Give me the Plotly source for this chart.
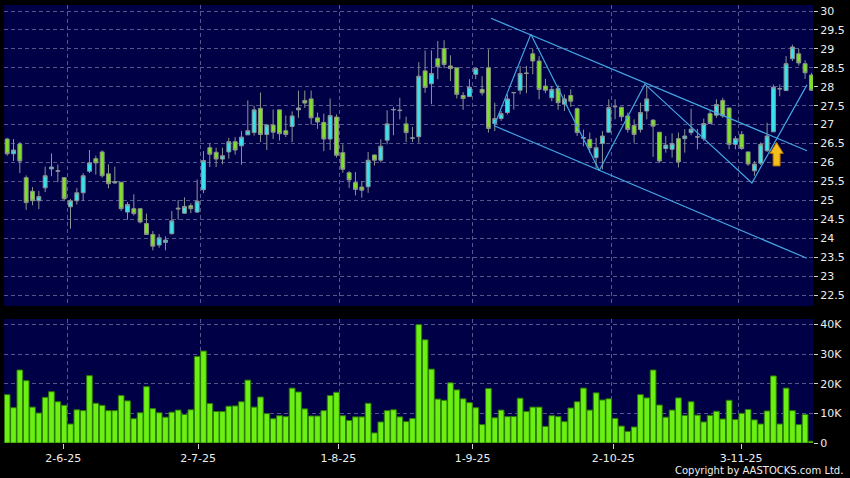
import plotly.graph_objects as go
from plotly.subplots import make_subplots

# daily sessions 20-5-25 .. 19-11-25 (128 bars), x = session index
opens = [26.62, 26.23, 26.49, 25.60, 25.24, 24.99, 25.33, 25.83, 25.77, 25.60,
         24.83, 24.99, 25.20, 25.77, 26.10, 26.28, 25.70, 25.46, 25.48, 24.69,
         24.78, 24.78, 24.39, 24.10, 23.82, 23.89, 24.12, 24.77, 24.66, 24.86,
         24.69, 25.28, 26.39, 26.27, 26.09, 26.28, 26.55, 26.44, 26.73, 26.79,
         27.43, 26.74, 26.99, 27.39, 26.84, 26.95, 27.39, 27.64, 27.68, 27.18,
         27.06, 26.62, 27.20, 26.26, 25.73, 25.47, 25.35, 25.36, 26.20, 26.06,
         26.59, 27.39, 27.37, 27.02, 26.64, 26.68, 28.42, 28.08, 28.74, 29.01,
         28.55, 28.50, 27.77, 27.74, 28.33, 27.93, 28.50, 27.03, 27.16, 27.32,
         27.84, 27.91, 28.35, 28.87, 28.68, 28.02, 27.71, 27.95, 27.54, 27.77,
         27.42, 26.64, 26.61, 26.13, 26.50, 26.80, 27.47, 27.46, 27.23, 26.98,
         26.87, 27.36, 27.12, 26.80, 26.37, 26.35, 26.63, 26.63, 26.79, 26.67,
         26.63, 27.29, 27.25, 27.64, 27.44, 26.48, 26.74, 26.28, 25.78, 25.98,
         26.31, 26.81, 27.94, 27.90, 28.74, 28.87, 28.61, 28.31]
highs = [26.65, 26.62, 26.54, 25.66, 25.35, 25.25, 25.89, 26.24, 25.95, 25.61,
         25.04, 25.33, 25.72, 26.33, 26.18, 26.32, 25.95, 25.89, 25.48, 24.96,
         25.16, 24.78, 24.65, 24.19, 24.11, 24.05, 24.72, 25.01, 25.08, 24.92,
         25.55, 26.30, 26.51, 26.39, 26.39, 26.65, 26.67, 26.83, 27.64, 27.50,
         27.85, 27.02, 27.40, 27.39, 27.24, 27.35, 27.90, 27.90, 27.90, 27.32,
         27.29, 27.69, 27.27, 26.48, 25.77, 25.75, 25.51, 26.28, 26.20, 26.61,
         27.38, 27.47, 27.71, 27.21, 26.94, 28.65, 28.96, 28.96, 29.21, 29.23,
         28.83, 28.50, 27.86, 28.20, 28.48, 28.28, 28.99, 27.58, 27.36, 27.80,
         27.86, 28.55, 28.55, 29.00, 28.81, 28.21, 28.02, 28.04, 27.80, 27.93,
         27.45, 26.87, 26.79, 26.65, 26.83, 27.67, 27.67, 27.46, 27.32, 27.14,
         27.58, 28.02, 27.14, 26.80, 26.70, 26.77, 26.79, 26.88, 27.42, 26.89,
         27.16, 27.36, 27.67, 27.71, 27.44, 26.70, 26.83, 26.28, 26.04, 26.53,
         27.05, 28.06, 28.06, 28.81, 29.11, 29.00, 28.70, 28.37]
lows = [26.18, 26.04, 25.72, 24.75, 24.87, 24.77, 25.22, 25.64, 25.48, 24.98,
        24.25, 24.89, 24.99, 25.72, 25.68, 25.60, 25.32, 25.44, 24.72, 24.49,
        24.60, 24.39, 24.10, 23.68, 23.75, 23.68, 24.10, 24.49, 24.64, 24.66,
        24.67, 25.19, 25.88, 25.88, 25.95, 26.10, 26.21, 25.94, 26.73, 26.71,
        26.54, 26.33, 26.62, 26.58, 26.67, 26.54, 27.18, 27.44, 27.00, 26.89,
        26.30, 26.33, 26.13, 25.73, 25.33, 25.13, 25.07, 25.20, 25.92, 26.00,
        26.48, 26.72, 27.14, 26.54, 26.54, 26.52, 27.84, 27.54, 28.20, 28.49,
        28.15, 27.69, 27.39, 27.74, 28.20, 27.77, 26.79, 26.83, 27.10, 27.27,
        27.40, 27.80, 27.83, 28.33, 27.67, 27.83, 27.62, 27.39, 27.36, 27.47,
        26.70, 26.43, 26.26, 25.84, 25.82, 26.79, 27.14, 27.09, 26.79, 26.52,
        26.79, 27.14, 26.15, 25.99, 26.26, 26.13, 25.87, 26.26, 26.72, 26.35,
        26.57, 27.01, 27.18, 27.18, 26.35, 26.35, 26.33, 25.91, 25.65, 25.93,
        26.28, 26.81, 27.75, 27.90, 28.68, 28.56, 28.21, 27.89]
closes = [26.23, 26.33, 26.04, 24.94, 24.99, 25.10, 25.65, 25.88, 25.78, 25.04,
          24.99, 25.20, 25.65, 25.99, 25.99, 25.65, 25.44, 25.49, 24.78, 24.89,
          24.65, 24.43, 24.10, 23.79, 24.01, 23.95, 24.46, 24.79, 24.84, 24.78,
          24.98, 26.05, 26.22, 26.09, 26.18, 26.55, 26.33, 26.67, 26.84, 27.39,
          26.74, 26.99, 26.80, 26.76, 26.74, 27.23, 27.44, 27.57, 27.18, 27.07,
          26.62, 27.24, 26.19, 25.82, 25.54, 25.29, 25.27, 26.06, 26.06, 26.43,
          27.02, 27.40, 27.38, 26.79, 26.65, 28.28, 27.98, 28.35, 28.53, 28.59,
          28.48, 27.80, 27.69, 27.99, 28.48, 27.84, 26.90, 27.16, 27.29, 27.68,
          27.85, 28.35, 28.36, 28.68, 27.93, 27.91, 27.93, 27.58, 27.68, 27.62,
          26.79, 26.66, 26.39, 26.39, 26.70, 27.45, 27.48, 27.21, 26.87, 26.74,
          27.32, 27.68, 26.96, 26.04, 26.46, 26.50, 26.02, 26.70, 26.88, 26.68,
          27.03, 27.03, 27.53, 27.23, 26.48, 26.63, 26.37, 25.96, 25.96, 26.48,
          26.70, 27.99, 27.95, 28.61, 29.05, 28.63, 28.37, 27.91]
# volume in thousands of shares
volume_k = [16.3, 11.9, 24.6, 21.0, 12.1, 10.1, 15.4, 17.3, 13.9, 12.7,
            6.4, 11.2, 10.9, 22.7, 13.4, 12.7, 10.9, 10.9, 16.0, 14.2,
            8.2, 10.2, 19.0, 11.6, 10.2, 8.7, 10.4, 11.1, 9.6, 11.2,
            29.2, 31.0, 13.3, 10.6, 10.6, 12.4, 12.5, 13.9, 21.2, 12.1,
            15.5, 9.9, 8.2, 9.2, 8.9, 18.5, 17.2, 11.5, 9.1, 9.1,
            10.9, 16.0, 17.1, 9.2, 7.6, 8.8, 8.8, 13.4, 3.4, 7.1,
            10.9, 11.2, 8.8, 7.2, 8.3, 39.9, 34.8, 24.9, 14.8, 14.4,
            20.3, 17.9, 14.9, 13.6, 11.9, 6.2, 18.4, 8.5, 11.1, 8.9,
            8.9, 15.1, 10.6, 12.1, 12.1, 5.6, 9.2, 8.9, 7.2, 11.8,
            13.9, 18.5, 11.1, 16.9, 14.5, 14.9, 8.3, 5.7, 3.9, 5.4,
            16.3, 15.2, 24.6, 12.8, 8.7, 11.1, 15.2, 9.3, 13.9, 9.4,
            7.1, 9.3, 10.7, 8.1, 14.4, 7.9, 10.0, 11.3, 7.8, 6.4,
            10.8, 22.6, 6.4, 18.5, 10.9, 6.2, 9.6, 0.6]

month_labels = ["2-6-25", "2-7-25", "1-8-25", "1-9-25", "2-10-25", "3-11-25"]
month_first_idx = [9, 30, 52, 73, 95, 115]

# hand drawn channel / zigzag (session index, price)
upper_x, upper_y = [76.4, 126.3], [29.81, 26.31]
lower_x, lower_y = [76.9, 126.3], [26.97, 23.47]
zig_x = [76.9, 82.7, 93.5, 100.7, 117.6, 126.3]
zig_y = [26.97, 29.39, 25.79, 28.07, 25.46, 28.05]

idx = list(range(len(closes)))
grid_pos = [i + 0.45 for i in month_first_idx]
label_pos = [8.85, 30.15, 52.3, 73.5, 95.7, 115.9]

NAVY = "#000046"
GRID = "#56568C"
FONT = dict(family="DejaVu Sans", size=11, color="#EDEDED")
xr = [-0.5, 127.25]

fig = make_subplots(rows=2, cols=1, shared_xaxes=False)

fig.add_trace(go.Candlestick(
    x=idx, open=opens, high=highs, low=lows, close=closes,
    increasing=dict(fillcolor="#33E3EE", line=dict(color="#8C9494", width=1)),
    decreasing=dict(fillcolor="#80E024", line=dict(color="#8C948C", width=1)),
    showlegend=False, hoverinfo="skip"), row=1, col=1)

for lx, ly in [(upper_x, upper_y), (lower_x, lower_y), (zig_x, zig_y)]:
    fig.add_trace(go.Scatter(x=lx, y=ly, mode="lines",
                             line=dict(color="#42A6E2", width=1.2),
                             showlegend=False, hoverinfo="skip"), row=1, col=1)

fig.add_trace(go.Bar(x=idx, y=volume_k, marker=dict(color="#6CF014",
                     line=dict(color="#2C7A06", width=1)),
                     showlegend=False, hoverinfo="skip"), row=2, col=1)

# yellow breakout arrow
fig.add_shape(type="path", xref="x", yref="y", layer="above",
              path="M 120.45 26.24 L 121.5 26.53 L 122.55 26.24 L 122.05 26.24 "
                   "L 122.05 25.91 L 120.95 25.91 L 120.95 26.24 Z",
              fillcolor="#F6BE1C", line=dict(color="#B57400", width=1))

fig.update_layout(
    width=850, height=478,
    margin=dict(l=4, r=37, t=5, b=35),
    paper_bgcolor="#000000", plot_bgcolor=NAVY,
    font=FONT, showlegend=False,
    boxgap=0.12, bargap=0.1,
    xaxis=dict(domain=[0, 1], range=xr, rangeslider=dict(visible=False),
               tickvals=grid_pos, showticklabels=False, ticks="",
               showgrid=True, gridcolor=GRID, griddash="4px,3px", gridwidth=1,
               zeroline=False, showline=False),
    yaxis=dict(domain=[0.3128, 1], range=[22.21, 30.16], side="right",
               tick0=22.5, dtick=0.5, ticks="outside", ticklen=4, tickcolor="#D0D0D0",
               showgrid=True, gridcolor=GRID, griddash="4px,3px", zeroline=False,
               showline=False, tickfont=FONT),
    xaxis2=dict(domain=[0, 1], range=xr, tickvals=label_pos, ticktext=month_labels,
                ticks="outside", ticklen=5, tickcolor="#D0D0D0", showgrid=False,
                minor=dict(tickvals=grid_pos, showgrid=True, gridcolor=GRID,
                           griddash="4px,3px", ticks=""),
                zeroline=False, showline=False, tickfont=FONT),
    yaxis2=dict(domain=[0, 0.2831], range=[0, 41.8], side="right",
                tickvals=[0, 10, 20, 30, 40], ticktext=["0", "10K", "20K", "30K", "40K"],
                ticks="outside", ticklen=4, tickcolor="#D0D0D0",
                showgrid=True, gridcolor=GRID, griddash="4px,3px", zeroline=False,
                showline=False, tickfont=FONT),
)

fig.add_annotation(text="Copyright by AASTOCKS.com Ltd.", xref="paper", yref="paper",
                   x=1.0396, y=-0.062, xanchor="right", yanchor="middle",
                   showarrow=False, font=dict(family="DejaVu Sans", size=10, color="#EDEDED"))

# page body has a default 8px margin; drop it so the 850x478 figure fills the window
fig.write_html("out.html", config={"displayModeBar": False},
               post_script="document.body.style.margin='0';")
